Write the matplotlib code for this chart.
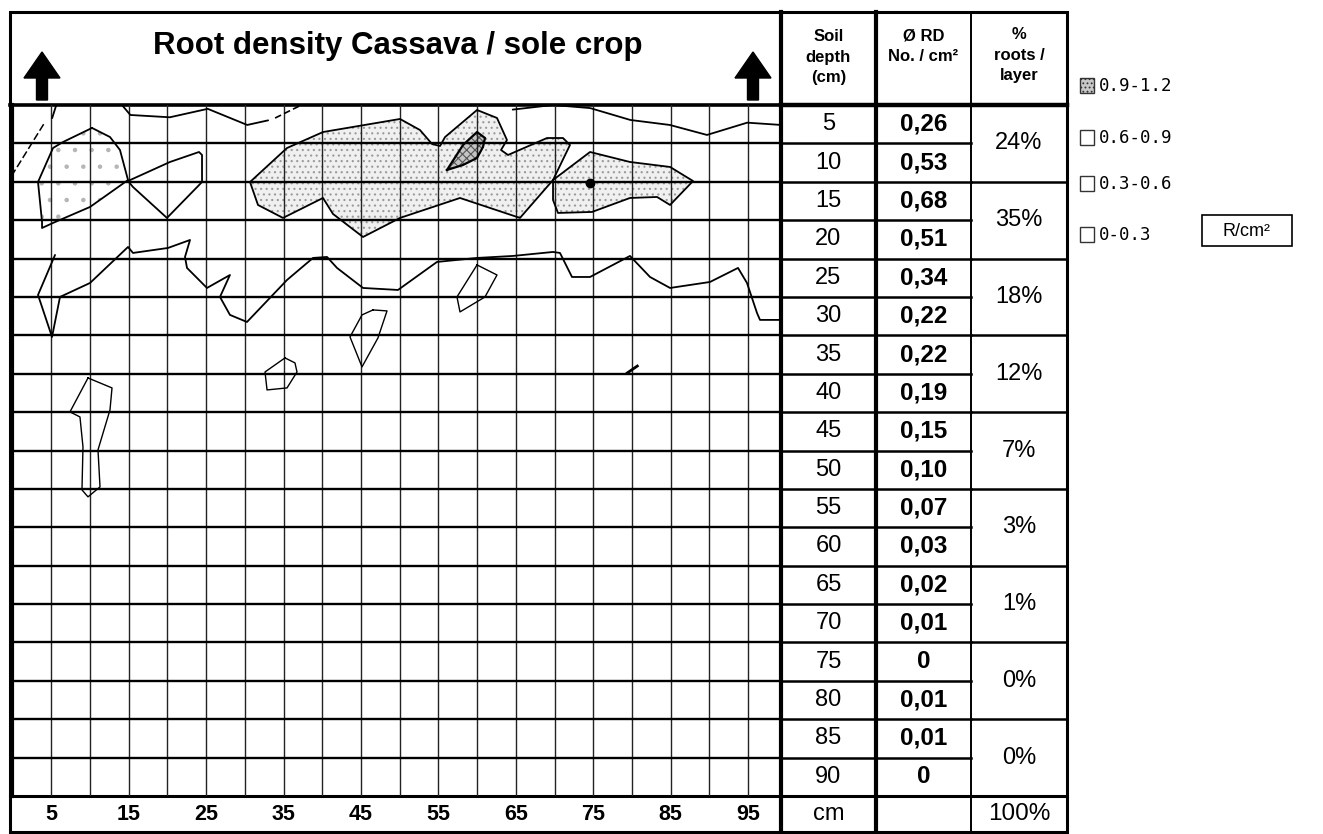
import numpy as np
import matplotlib
matplotlib.use("Agg")
import matplotlib.pyplot as plt
import matplotlib.transforms as mtrans
from matplotlib.patches import Rectangle, FancyArrow

plt.rcParams['font.family'] = ['Liberation Sans', 'DejaVu Sans']

# ---------------------------------------------------------------------------
# table values
depth_cm = [5, 10, 15, 20, 25, 30, 35, 40, 45, 50, 55, 60, 65, 70, 75, 80, 85, 90]
rd_values = [0.26, 0.53, 0.68, 0.51, 0.34, 0.22, 0.22, 0.19, 0.15, 0.10,
             0.07, 0.03, 0.02, 0.01, 0.0, 0.01, 0.01, 0.0]
layer_pct = ["24%", "35%", "18%", "12%", "7%", "3%", "1%", "0%", "0%"]
total_pct = "100%"
x_labels = [5, 15, 25, 35, 45, 55, 65, 75, 85, 95]
legend_labels = ["0.9-1.2", "0.6-0.9", "0.3-0.6", "0-0.3"]

# contour lines (x = distance in cm, y = depth in cm)
top_tick_x = [5.1, 5.6]
top_tick_y = [1.7, 0.1]
top_left_x = [14.2, 15.2, 20.3, 25.2, 30.3, 33.0]
top_left_y = [0.1, 1.3, 1.6, 0.5, 2.6, 2.0]
top_dash_x = [33.9, 37.1]
top_dash_y = [1.7, 0.1]
top_right_x = [64.6, 69.8, 74.6, 79.8, 84.9, 89.7, 94.9, 99.3]
top_right_y = [0.6, 0.0, 0.4, 1.95, 2.6, 3.9, 2.3, 2.6]
left_dash_x = [4.0, 0.0]
left_dash_y = [2.5, 9.0]

left_poly_x = [10.25, 12.57, 13.86, 14.90, 9.99, 5.21, 3.79, 3.79, 3.27, 5.21, 6.50]
left_poly_y = [2.99, 4.17, 5.86, 9.77, 13.28, 15.36, 16.02, 15.23, 10.03, 5.60, 4.82]
wedge_x = [14.90, 20.32, 24.07, 24.46, 24.46, 19.93, 15.54]
wedge_y = [9.90, 7.42, 6.12, 6.51, 10.03, 14.71, 10.68]

mid_x = [30.66, 35.44, 40.09, 50.04, 52.62, 54.18, 55.21, 55.86, 59.99, 62.57, 63.86,
         63.09, 63.99, 69.03, 71.10, 72.00, 69.81, 65.54, 57.79, 50.04, 45.26, 41.38,
         40.09, 34.92, 31.69]
mid_y = [10.03, 5.60, 3.52, 1.82, 3.26, 5.08, 5.34, 4.17, 0.65, 1.69, 4.56,
         5.86, 6.51, 4.30, 4.30, 5.21, 9.77, 14.71, 12.11, 14.71, 17.19, 14.19,
         12.11, 14.71, 13.02]
right_x = [69.81, 74.59, 79.75, 84.93, 87.90, 84.93, 83.25, 79.75, 74.85, 70.45, 69.81]
right_y = [9.77, 6.12, 7.42, 8.07, 9.90, 13.02, 11.98, 12.11, 13.93, 14.06, 12.37]
dark_x = [56.11, 58.18, 59.99, 61.02, 60.76, 59.99, 58.18]
dark_y = [8.46, 5.21, 3.52, 4.30, 5.47, 6.90, 7.81]
dot_x, dot_y = 74.6, 10.2

low_x = [5.47, 3.27, 5.08, 6.11, 9.99, 14.90, 15.54, 20.06, 22.91, 22.26, 22.52, 25.10,
         28.07, 26.78, 28.07, 30.27, 35.44, 38.80, 40.61, 41.90, 45.26, 49.78, 53.92,
         54.82, 59.99, 64.64, 69.81, 70.71, 72.26, 74.59, 79.75, 82.34, 84.93, 90.09,
         93.71, 94.87, 96.16, 96.55, 99.13]
low_y = [19.53, 24.74, 30.21, 25.00, 23.18, 18.49, 19.27, 18.62, 17.58, 19.79, 21.22, 23.83,
         22.14, 25.00, 27.34, 28.26, 22.79, 19.92, 19.79, 21.22, 23.83, 24.09, 21.09,
         20.44, 19.92, 19.66, 19.14, 19.27, 22.40, 22.40, 19.66, 22.40, 23.83, 23.05,
         21.22, 23.18, 27.08, 27.99, 27.99]

islands = [
    ([59.99, 62.57, 61.02, 59.73, 57.79, 57.40], [20.83, 22.14, 25.00, 25.78, 26.95, 25.00]),
    ([46.55, 48.36, 47.19, 45.13, 43.58, 45.13], [26.69, 26.82, 30.34, 34.11, 30.21, 27.34]),
    ([35.18, 36.47, 36.73, 35.44, 32.86, 32.60], [32.94, 33.59, 34.77, 36.85, 37.11, 34.77]),
    ([9.73, 12.83, 12.57, 11.02, 11.28, 9.73, 8.95, 9.08, 8.69, 7.40],
     [35.55, 36.85, 39.71, 44.92, 49.74, 51.04, 50.13, 44.53, 40.63, 39.97]),
]
tick_mark_x = [79.4, 80.7]
tick_mark_y = [34.9, 34.0]

# ---------------------------------------------------------------------------
W, H = 1323, 834
fig = plt.figure(figsize=(W / 100, H / 100), dpi=100)

page = fig.add_axes((0, 0, 1, 1))
page.set_xlim(0, W)
page.set_ylim(H, 0)
page.axis('off')

def px_axes(l, t, r, b):
    return fig.add_axes((l / W, 1 - b / H, (r - l) / W, (b - t) / H))

g_left, g_right, g_top, g_bot = 12.7, 781, 105, 796
cell = 38.7
grid = px_axes(g_left, g_top, g_right, g_bot)
grid.set_xlim(0, 5 * (g_right - g_left) / cell)
grid.set_ylim(90, 0)
grid.axis('off')

# grid lines
for x in range(5, 100, 5):
    grid.axvline(x, color='#222222', lw=1.0, zorder=2)
for y in range(5, 90, 5):
    grid.axhline(y, color='black', lw=1.7, zorder=2)

# shaded density classes
plt.rcParams['hatch.linewidth'] = 0.8
grid.fill(left_poly_x, left_poly_y, facecolor='white', edgecolor='#b5b5b5', hatch='.', lw=0, zorder=1)
grid.fill(mid_x, mid_y, facecolor='#f0f0f0', edgecolor='#9a9a9a', hatch='...', lw=0, zorder=1)
grid.fill(right_x, right_y, facecolor='#f0f0f0', edgecolor='#9a9a9a', hatch='...', lw=0, zorder=1)
grid.fill(dark_x, dark_y, facecolor='#c4c4c4', edgecolor='#555555', hatch='xxxx', lw=0, zorder=1)

line_kw = dict(color='black', lw=1.3, zorder=3, solid_capstyle='round')
grid.plot(top_tick_x, top_tick_y, **line_kw)
grid.plot(top_left_x, top_left_y, **line_kw)
grid.plot(top_dash_x, top_dash_y, color='black', lw=1.2, ls=(0, (4, 2)), zorder=3)
grid.plot(top_right_x, top_right_y, **line_kw)
grid.plot(left_dash_x, left_dash_y, color='black', lw=1.1, ls=(0, (5, 2)), zorder=3)
grid.plot(left_poly_x + left_poly_x[:1], left_poly_y + left_poly_y[:1], **line_kw)
grid.plot(wedge_x + wedge_x[:1], wedge_y + wedge_y[:1], **line_kw)
grid.plot(mid_x + mid_x[:1], mid_y + mid_y[:1], **line_kw)
grid.plot(right_x + right_x[:1], right_y + right_y[:1], **line_kw)
grid.plot(dark_x + dark_x[:1], dark_y + dark_y[:1], color='black', lw=1.6, zorder=3)
grid.plot(dot_x, dot_y, 'o', color='black', ms=6, zorder=4)
grid.plot(low_x, low_y, **line_kw)
for ix, iy in islands:
    grid.plot(ix + ix[:1], iy + iy[:1], color='black', lw=1.0, zorder=3)
grid.plot(tick_mark_x, tick_mark_y, color='black', lw=2.0, zorder=3)

# ---------------------------------------------------------------------------
# frame, title row and table
c0, c1, c2, c3 = 781, 876, 971, 1067
top, bottom = 12, 832
row_h = (g_bot - g_top) / 18

page.add_patch(Rectangle((10, top), c3 - 10, bottom - top, fill=False, lw=2.2, ec='black'))
page.plot([10, c0], [g_top, g_top], color='black', lw=2.6)
page.plot([12, 12], [g_top, g_bot], color='black', lw=3.0)
page.plot([10, c3], [g_bot, g_bot], color='black', lw=2.2)
page.plot([c0, c0], [top, bottom], color='black', lw=3.0)
page.plot([c1, c1], [top, bottom], color='black', lw=3.0)
page.plot([c2, c2], [top, bottom], color='black', lw=1.4)
page.plot([c0, c3], [g_top, g_top], color='black', lw=3.2)

for i in range(1, 18):
    yy = g_top + i * row_h
    page.plot([c0, c2], [yy, yy], color='black', lw=1.8)
    if i % 2 == 0:
        page.plot([c2, c3], [yy, yy], color='black', lw=1.8)

page.text(398, 46, "Root density Cassava / sole crop", fontsize=22.5, fontweight='bold',
          ha='center', va='center')
for ax_x in (42, 753):
    page.add_patch(FancyArrow(ax_x, 100, 0, -48, width=11, head_width=36, head_length=26,
                              length_includes_head=True, color='black'))

hdr_kw = dict(fontsize=12, fontweight='bold', ha='center', va='center', linespacing=1.45)
page.text((c0 + c1) / 2, 57, "Soil\ndepth\n(cm)", **hdr_kw)
page.text((c1 + c2) / 2, 46, "Ø RD\nNo. / cm²", **hdr_kw)
page.text((c2 + c3) / 2, 55, "%\nroots /\nlayer", **hdr_kw)

for i, (d, v) in enumerate(zip(depth_cm, rd_values)):
    yc = g_top + (i + 0.5) * row_h
    page.text((c0 + c1) / 2, yc, str(d), fontsize=17, ha='center', va='center')
    txt = "0" if v == 0 else f"{v:.2f}".replace('.', ',')
    page.text((c1 + c2) / 2, yc, txt, fontsize=17.5, fontweight='bold', ha='center', va='center')
for j, p in enumerate(layer_pct):
    yc = g_top + (2 * j + 1) * row_h
    page.text((c2 + c3) / 2, yc, p, fontsize=17, ha='center', va='center')

yb = (g_bot + bottom) / 2
page.text((c0 + c1) / 2, yb, "cm", fontsize=17, ha='center', va='center')
page.text((c2 + c3) / 2, yb, total_pct, fontsize=17.5, ha='center', va='center')

lab_tr = mtrans.blended_transform_factory(grid.transData, page.transData)
for xl in x_labels:
    page.text(xl, yb, str(xl), transform=lab_tr, fontsize=15.5, fontweight='bold',
              ha='center', va='center')

# legend
leg_y = [86, 138, 184, 235]
leg_face = ['#c8c8c8', 'white', 'white', 'white']
for lab, yy, fc in zip(legend_labels, leg_y, leg_face):
    page.add_patch(Rectangle((1080, yy - 8), 14, 15, facecolor=fc, edgecolor='#333333', lw=1.0,
                             hatch='....' if fc != 'white' else None))
    page.text(1099, yy, lab, fontsize=12.5, family='DejaVu Sans Mono', ha='left', va='center')
page.add_patch(Rectangle((1202, 215), 90, 31, fill=False, lw=1.2, ec='black'))
page.text(1247, 231, "R/cm²", fontsize=13, ha='center', va='center')

fig.savefig("out.png", dpi=100)
